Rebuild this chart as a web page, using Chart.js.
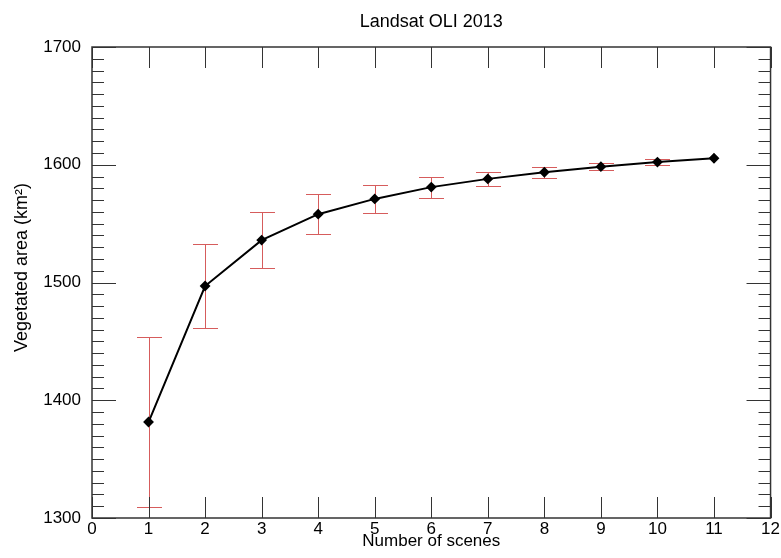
<!DOCTYPE html>
<html>
<head>
<meta charset="utf-8">
<script src="https://cdn.jsdelivr.net/npm/chart.js@4"></script>
<style>
  html, body { margin: 0; padding: 0; background: #fff; }
  #wrap { width: 781px; height: 558px; }
</style>
</head>
<body>
<div id="wrap"><canvas id="areaChart"></canvas></div>
<script>
// Data
const scenes = [1, 2, 3, 4, 5, 6, 7, 8, 9, 10, 11];
const vegArea = [1381.5, 1497, 1536, 1558, 1571, 1581, 1588, 1593.6, 1598.4, 1602.3, 1605.5];
const vegErr = [72, 35.5, 24, 17, 12, 9, 6, 4.5, 3, 2.3, 0];
const xTicks = [0, 1, 2, 3, 4, 5, 6, 7, 8, 9, 10, 11, 12];
const yTicks = [1300, 1400, 1500, 1600, 1700];
const chartTitle = 'Landsat OLI 2013';

const FONT = '"Liberation Sans", Arial, Helvetica, sans-serif';

// IDL-style frame: box with inward ticks on all four sides, title centred on the plot box
const frameTicks = {
    id: 'frameTicks',
    afterDatasetsDraw(chart) {
        const { ctx, chartArea: a, scales: { x, y } } = chart;
        ctx.save();
        ctx.strokeStyle = '#333';
        ctx.lineWidth = 1;
        ctx.beginPath();
        xTicks.forEach(v => {
            const px = Math.round(x.getPixelForValue(v)) + 0.5;
            ctx.moveTo(px, a.bottom); ctx.lineTo(px, a.bottom - 21);
            ctx.moveTo(px, a.top); ctx.lineTo(px, a.top + 21);
        });
        for (let v = yTicks[0]; v <= yTicks[yTicks.length - 1]; v += 10) {
            const py = Math.round(y.getPixelForValue(v)) + 0.5;
            const len = (v % 100 === 0) ? 24 : 12;
            ctx.moveTo(a.left, py); ctx.lineTo(a.left + len, py);
            ctx.moveTo(a.right, py); ctx.lineTo(a.right - len, py);
        }
        ctx.stroke();
        ctx.lineWidth = 1.5;
        ctx.strokeRect(a.left, a.top, a.right - a.left, a.bottom - a.top);

        ctx.fillStyle = '#000';
        ctx.font = '18px ' + FONT;
        ctx.textAlign = 'center';
        ctx.textBaseline = 'alphabetic';
        ctx.fillText(chartTitle, (a.left + a.right) / 2, 27);
        ctx.restore();
    }
};

// red error bars
const errorBars = {
    id: 'errorBars',
    beforeDatasetsDraw(chart) {
        const { ctx, scales: { x, y } } = chart;
        ctx.save();
        ctx.strokeStyle = 'rgb(214, 92, 92)';
        ctx.lineWidth = 1;
        scenes.forEach((s, i) => {
            if (!vegErr[i]) return;
            const px = Math.round(x.getPixelForValue(s)) + 0.5;
            const top = Math.round(y.getPixelForValue(vegArea[i] + vegErr[i])) + 0.5;
            const bot = Math.round(y.getPixelForValue(vegArea[i] - vegErr[i])) + 0.5;
            ctx.beginPath();
            ctx.moveTo(px, top); ctx.lineTo(px, bot);
            ctx.moveTo(px - 12.5, top); ctx.lineTo(px + 12.5, top);
            ctx.moveTo(px - 12.5, bot); ctx.lineTo(px + 12.5, bot);
            ctx.stroke();
        });
        ctx.restore();
    }
};

const ctx = document.getElementById('areaChart').getContext('2d');
const chart = new Chart(ctx, {
    type: 'line',
    data: {
        datasets: [{
            data: scenes.map((s, i) => ({ x: s, y: vegArea[i] })),
            borderColor: '#000',
            borderWidth: 2,
            backgroundColor: '#000',
            pointStyle: 'rectRot',
            pointRadius: 4,
            pointHoverRadius: 4,
            tension: 0,
            fill: false
        }]
    },
    options: {
        responsive: true,
        maintainAspectRatio: false,
        animation: false,
        layout: { padding: { left: 0, right: 9, top: 47, bottom: 0 } },
        plugins: {
            legend: { display: false },
            tooltip: { enabled: false },
            title: { display: false }
        },
        scales: {
            x: {
                type: 'linear',
                min: 0,
                max: 12,
                afterBuildTicks: s => { s.ticks = xTicks.map(v => ({ value: v })); },
                afterFit: s => { s.height = 40; },
                grid: { display: false, drawTicks: false },
                border: { display: false },
                ticks: { color: '#000', padding: 1, font: { family: FONT, size: 17 } },
                title: {
                    display: true,
                    text: 'Number of scenes',
                    color: '#000',
                    font: { family: FONT, size: 17 },
                    padding: { top: 0, bottom: 6 }
                }
            },
            y: {
                min: 1300,
                max: 1700,
                afterBuildTicks: s => { s.ticks = yTicks.map(v => ({ value: v })); },
                afterFit: s => { s.width = 92; },
                grid: { display: false, drawTicks: false },
                border: { display: false },
                ticks: {
                    color: '#000',
                    padding: 11,
                    font: { family: FONT, size: 17 },
                    callback: v => String(v)
                },
                title: {
                    display: true,
                    text: '      Vegetated area (km²)',
                    color: '#000',
                    font: { family: FONT, size: 18 },
                    padding: { top: 11, bottom: 0 }
                }
            }
        }
    },
    plugins: [errorBars, frameTicks]
});
</script>
</body>
</html>
